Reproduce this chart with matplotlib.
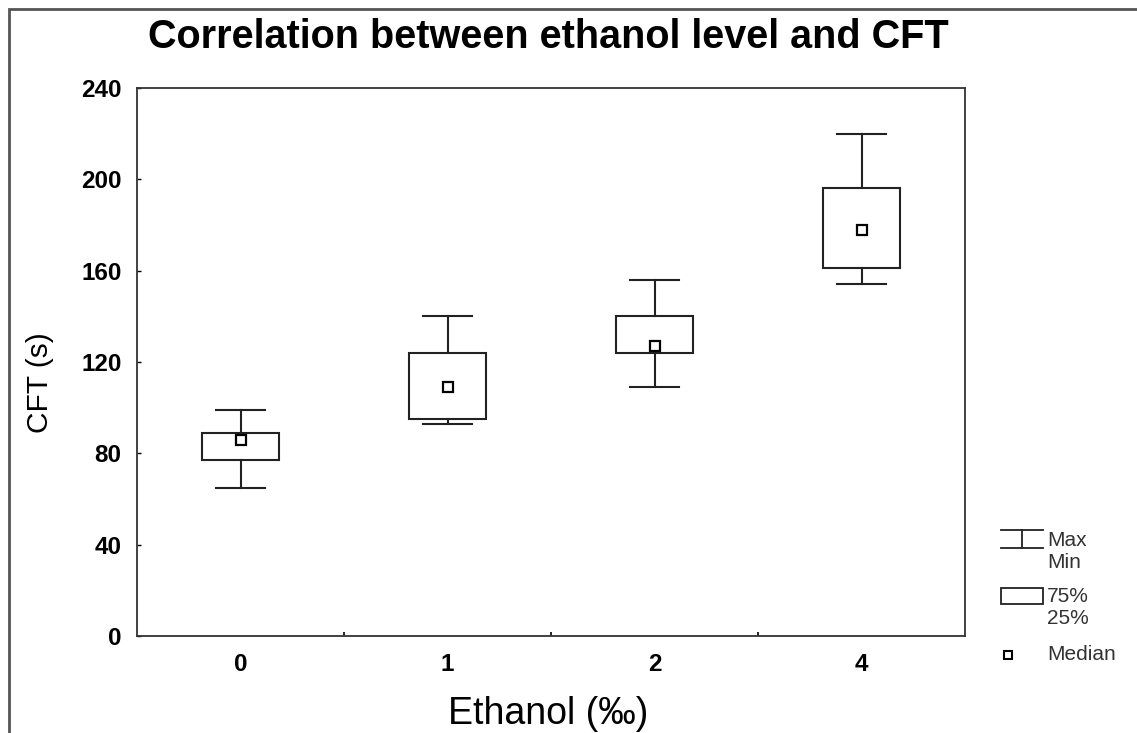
import numpy as np
import matplotlib
matplotlib.use("Agg")
import matplotlib.pyplot as plt
from matplotlib.patches import Rectangle

plt.rcParams['font.family'] = ['Liberation Sans', 'DejaVu Sans']

# data (CFT in seconds)
groups = ['0', '1', '2', '4']
v_min = [65, 93, 109, 154]
v_q1 = [77, 95, 124, 161]
v_med = [86, 109, 127, 178]
v_q3 = [89, 124, 140, 196]
v_max = [99, 140, 156, 220]

W, H = 1137, 733
fig = plt.figure(figsize=(W/100, H/100), dpi=100)
ax = fig.add_axes([137/W, 1-636/H, (965-137)/W, (636-88)/H])

box_w = 0.37
cap_w = 0.235
lc = '#222222'
for i in range(len(groups)):
    ax.plot([i, i], [v_min[i], v_q1[i]], color=lc, lw=1.5)
    ax.plot([i, i], [v_q3[i], v_max[i]], color=lc, lw=1.5)
    ax.plot([i-cap_w/2, i+cap_w/2], [v_min[i], v_min[i]], color=lc, lw=1.5)
    ax.plot([i-cap_w/2, i+cap_w/2], [v_max[i], v_max[i]], color=lc, lw=1.5)
    ax.add_patch(Rectangle((i-box_w/2, v_q1[i]), box_w, v_q3[i]-v_q1[i],
                           fill=False, ec=lc, lw=1.5, zorder=3))
    ax.plot(i, v_med[i], marker='s', ms=7.5, mfc='white', mec='black', mew=1.6, zorder=4)

ax.set_xlim(-0.5, 3.5)
ax.set_ylim(0, 240)
ax.set_yticks(np.arange(0, 241, 40))
ax.set_xticks(range(len(groups)))
ax.set_xticklabels(groups)
ax.set_xticks([0.5, 1.5, 2.5], minor=True)
ax.tick_params(axis='x', which='major', length=0, pad=12)
ax.tick_params(axis='x', which='minor', direction='in', length=3, width=1.2)
ax.tick_params(axis='y', direction='in', length=3, width=1, pad=11)
for lab in ax.get_xticklabels() + ax.get_yticklabels():
    lab.set_fontsize(17.5)
    lab.set_fontweight('bold')
for sp in ax.spines.values():
    sp.set_color('#333333')
    sp.set_linewidth(1.3)

ax.set_ylabel('CFT (s)', fontsize=21.5, va='center')
ax.yaxis.set_label_coords((40-137)/828, (636-383)/548)
ax.set_xlabel('Ethanol (‰)', fontsize=27, va='center')
ax.xaxis.set_label_coords((548-137)/828, (636-714)/548)
fig.text(548/W, 1-37/H, 'Correlation between ethanol level and CFT',
         ha='center', va='center', fontsize=28.5, fontweight='bold')

# legend drawn by hand, axes data units = figure pixels
lg = fig.add_axes([990/W, 1-670/H, 147/W, 150/H])
lg.set_xlim(990, 1137)
lg.set_ylim(670, 520)
lg.axis('off')
lg.plot([1001, 1043], [530, 530], color=lc, lw=1.3)
lg.plot([1001, 1043], [548, 548], color=lc, lw=1.3)
lg.plot([1022, 1022], [530, 548], color=lc, lw=1.3)
lg.add_patch(Rectangle((1001, 588), 42, 16, fill=False, ec=lc, lw=1.3))
lg.plot(1008, 655, marker='s', ms=6, mfc='white', mec='black', mew=1.5)
legend_text = [('Max', 541), ('Min', 562), ('75%', 596), ('25%', 618), ('Median', 655)]
for txt, yy in legend_text:
    lg.text(1047, yy, txt, fontsize=15, va='center', color='#333333')

# outer frame (left and top edges visible)
fig.patches.append(Rectangle((9/W, -0.1), 1.2, 1-9/H+0.1, transform=fig.transFigure,
                             fill=False, ec='#555555', lw=2))

fig.savefig('out.png', dpi=100)
